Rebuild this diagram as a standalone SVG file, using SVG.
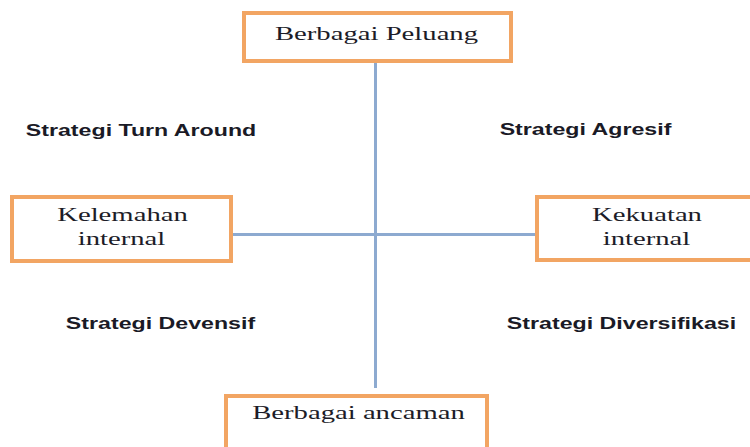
<svg xmlns="http://www.w3.org/2000/svg" width="750" height="447" viewBox="0 0 750 447">
<style>
.box{fill:#fff;stroke:#F2A563;stroke-width:4}
.conn{stroke:#8DAAD0;stroke-width:3;fill:none}
.ser{font-family:"Liberation Serif","Times New Roman",serif;font-size:19px;fill:#1c1c28;text-anchor:middle}
.lab{font-family:"Liberation Sans",Arial,sans-serif;font-size:16px;font-weight:bold;fill:#1a1a26;text-anchor:middle}
</style>
<rect width="750" height="447" fill="#fff"/>
<g id="connectors">
<line class="conn" x1="375.5" y1="62" x2="375.5" y2="388"/>
<line class="conn" x1="233" y1="234.5" x2="536" y2="234.5"/>
</g>
<g id="node-peluang">
<rect class="box" x="244" y="13" width="267" height="48"/>
<text class="ser" transform="translate(376.5,40) scale(1.51,1)">Berbagai Peluang</text>
</g>
<g id="node-kelemahan">
<rect class="box" x="12" y="197" width="219" height="64"/>
<text class="ser" transform="translate(122.5,221) scale(1.51,1)">Kelemahan</text>
<text class="ser" transform="translate(121.5,245) scale(1.51,1)">internal</text>
</g>
<g id="node-kekuatan">
<rect class="box" x="537" y="197" width="220" height="63"/>
<text class="ser" transform="translate(647,221) scale(1.51,1)">Kekuatan</text>
<text class="ser" transform="translate(646.5,245) scale(1.51,1)">internal</text>
</g>
<g id="node-ancaman">
<rect class="box" x="226" y="396" width="261" height="60"/>
<text class="ser" transform="translate(358.5,419) scale(1.51,1)">Berbagai ancaman</text>
</g>
<g id="labels">
<text class="lab" transform="translate(141,136) scale(1.45,1)">Strategi Turn Around</text>
<text class="lab" transform="translate(585.5,135) scale(1.45,1)">Strategi Agresif</text>
<text class="lab" transform="translate(160.5,329) scale(1.45,1)">Strategi Devensif</text>
<text class="lab" transform="translate(621.5,329) scale(1.45,1)">Strategi Diversifikasi</text>
</g>
</svg>
